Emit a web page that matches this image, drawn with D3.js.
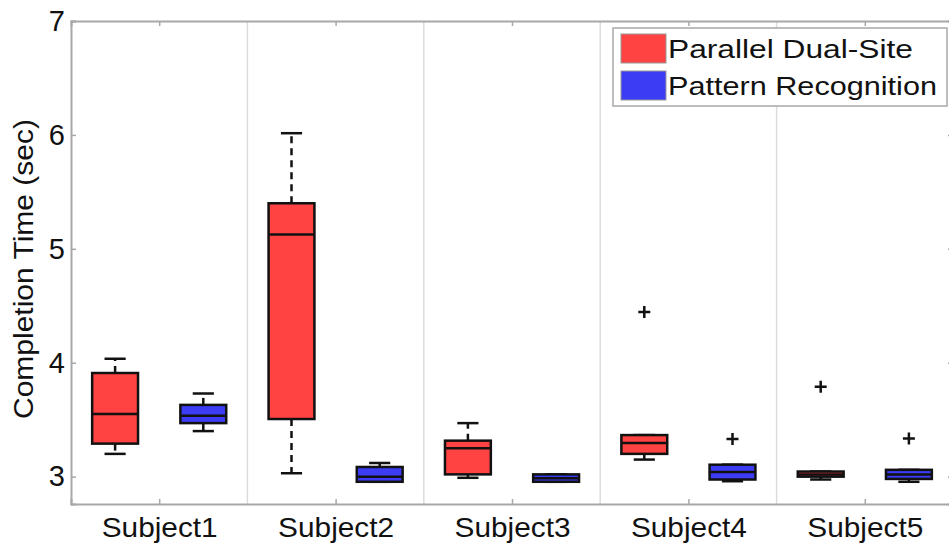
<!DOCTYPE html>
<html>
<head>
<meta charset="utf-8">
<script src="https://cdn.jsdelivr.net/npm/d3@7"></script>
<style>
  body { margin: 0; background: #fff; }
  text { font-family: "Liberation Sans", Arial, sans-serif; }
</style>
</head>
<body>
<div id="chart"></div>
<script>
// data
var subjects = ["Subject1", "Subject2", "Subject3", "Subject4", "Subject5"];
var series = ["Parallel Dual-Site", "Pattern Recognition"];
var colors = ["#ff4242", "#3c3cf4"];
var yTicks = [3, 4, 5, 6, 7];

// Parallel Dual-Site
var dualLow  = [3.20, 3.03, 2.99, 3.15, 2.975];
var dualQ1   = [3.29, 3.506, 3.02, 3.20, 3.00];
var dualMed  = [3.55, 5.125, 3.25, 3.295, 3.02];
var dualQ3   = [3.91, 5.40, 3.316, 3.365, 3.045];
var dualHigh = [4.035, 6.015, 3.47, 3.365, 3.045];
var dualOut  = [[], [], [], [4.445], [3.79]];

// Pattern Recognition
var patLow  = [3.40, 2.955, 2.955, 2.96, 2.955];
var patQ1   = [3.47, 2.955, 2.955, 2.975, 2.98];
var patMed  = [3.535, 3.0, 2.985, 3.04, 3.02];
var patQ3   = [3.63, 3.085, 3.02, 3.105, 3.06];
var patHigh = [3.73, 3.12, 3.02, 3.105, 3.06];
var patOut  = [[], [], [], [3.33], [3.335]];

var width = 949, height = 548;
var plotLeft = 71, plotRight = 953, plotTop = 21, plotBottom = 504;

var svg = d3.select("#chart").append("svg")
    .attr("width", width)
    .attr("height", height);

var x = d3.scaleLinear().domain([0.5, 5.5]).range([plotLeft, plotRight]);
var y = d3.scaleLinear().domain([2.76, 7]).range([plotBottom, plotTop]);

//light separators between subjects
svg.append("g").selectAll("line")
    .data(d3.range(1.5, 5, 1))
    .enter().append("line")
    .attr("x1", function(d) { return x(d); })
    .attr("x2", function(d) { return x(d); })
    .attr("y1", plotTop)
    .attr("y2", plotBottom)
    .attr("stroke", "#dcdcdc")
    .attr("stroke-width", 1.5);

//axes, ticks pointing inside
var gx = svg.append("g")
    .attr("transform", "translate(0," + plotBottom + ")")
    .call(d3.axisBottom(x).tickValues([1, 2, 3, 4, 5]).tickSize(-5).tickPadding(13)
        .tickFormat(function(d) { return subjects[d - 1]; }));
var gxTop = svg.append("g")
    .attr("transform", "translate(0," + plotTop + ")")
    .call(d3.axisTop(x).tickValues([1, 2, 3, 4, 5]).tickSize(-5).tickFormat(""));
var gy = svg.append("g")
    .attr("transform", "translate(" + plotLeft + ",0)")
    .call(d3.axisLeft(y).tickValues(yTicks).tickSize(-5).tickPadding(6).tickFormat(d3.format("d")));
var gyRight = svg.append("g")
    .attr("transform", "translate(" + plotRight + ",0)")
    .call(d3.axisRight(y).tickValues(yTicks).tickSize(-5).tickFormat(""));

[gx, gxTop, gy, gyRight].forEach(function(g) {
    g.select(".domain").attr("stroke", "#a8a8a8").attr("stroke-width", 2);
    g.selectAll(".tick line").attr("stroke", "#a8a8a8").attr("stroke-width", 1.5);
});

gx.selectAll(".tick text")
    .attr("fill", "#111")
    .style("font-size", "28px")
    .attr("textLength", 116)
    .attr("lengthAdjust", "spacingAndGlyphs");

gy.selectAll(".tick text")
    .attr("fill", "#111")
    .style("font-size", "29px");

//y axis title
svg.append("text")
    .attr("transform", "translate(33,269) rotate(-90)")
    .attr("text-anchor", "middle")
    .attr("fill", "#111")
    .style("font-size", "27px")
    .attr("textLength", 300)
    .attr("lengthAdjust", "spacingAndGlyphs")
    .text("Completion Time (sec)");

//one entry per box
var boxes = [];
subjects.forEach(function(s, i) {
    boxes.push({pos: i + 1 - 0.25, c: colors[0], low: dualLow[i], q1: dualQ1[i], med: dualMed[i], q3: dualQ3[i], high: dualHigh[i], out: dualOut[i]});
    boxes.push({pos: i + 1 + 0.25, c: colors[1], low: patLow[i], q1: patQ1[i], med: patMed[i], q3: patQ3[i], high: patHigh[i], out: patOut[i]});
});

var halfBox = 0.13, halfCap = 0.06;

var bg = svg.append("g").selectAll("g")
    .data(boxes)
    .enter().append("g");

//dashed whiskers
bg.append("line")
    .attr("x1", function(d) { return x(d.pos); })
    .attr("x2", function(d) { return x(d.pos); })
    .attr("y1", function(d) { return y(d.q3); })
    .attr("y2", function(d) { return y(d.high); })
    .attr("stroke", "#111").attr("stroke-width", 2.5)
    .attr("stroke-dasharray", "7,5");
bg.append("line")
    .attr("x1", function(d) { return x(d.pos); })
    .attr("x2", function(d) { return x(d.pos); })
    .attr("y1", function(d) { return y(d.q1); })
    .attr("y2", function(d) { return y(d.low); })
    .attr("stroke", "#111").attr("stroke-width", 2.5)
    .attr("stroke-dasharray", "7,5");

//whisker caps
["high", "low"].forEach(function(k) {
    bg.append("line")
        .attr("x1", function(d) { return x(d.pos - halfCap); })
        .attr("x2", function(d) { return x(d.pos + halfCap); })
        .attr("y1", function(d) { return y(d[k]); })
        .attr("y2", function(d) { return y(d[k]); })
        .attr("stroke", "#111").attr("stroke-width", 2.5);
});

//boxes
bg.append("rect")
    .attr("x", function(d) { return x(d.pos - halfBox); })
    .attr("width", function(d) { return x(d.pos + halfBox) - x(d.pos - halfBox); })
    .attr("y", function(d) { return y(d.q3); })
    .attr("height", function(d) { return y(d.q1) - y(d.q3); })
    .attr("fill", function(d) { return d.c; })
    .attr("stroke", "#111")
    .attr("stroke-width", 2.5);

//median
bg.append("line")
    .attr("x1", function(d) { return x(d.pos - halfBox); })
    .attr("x2", function(d) { return x(d.pos + halfBox); })
    .attr("y1", function(d) { return y(d.med); })
    .attr("y2", function(d) { return y(d.med); })
    .attr("stroke", "#111").attr("stroke-width", 2.5);

//outliers as + marks
bg.each(function(d) {
    d3.select(this).selectAll("path.out")
        .data(d.out)
        .enter().append("path")
        .attr("class", "out")
        .attr("d", "M-6,0H6M0,-6V6")
        .attr("transform", function(v) { return "translate(" + x(d.pos) + "," + y(v) + ")"; })
        .attr("stroke", "#111")
        .attr("stroke-width", 2.5);
});

//legend
var lg = svg.append("g");
lg.append("rect")
    .attr("x", 613).attr("y", 28)
    .attr("width", 334).attr("height", 78)
    .attr("fill", "#fff")
    .attr("stroke", "#a8a8a8")
    .attr("stroke-width", 1.5);

var item = lg.selectAll("g.item")
    .data(series)
    .enter().append("g")
    .attr("class", "item")
    .attr("transform", function(d, i) { return "translate(621," + (34 + i * 37) + ")"; });
item.append("rect")
    .attr("width", 45).attr("height", 29)
    .attr("fill", function(d, i) { return colors[i]; })
    .attr("stroke", "#999")
    .attr("stroke-width", 1);
item.append("text")
    .attr("x", 47)
    .attr("y", 24)
    .attr("fill", "#111")
    .style("font-size", "25px")
    .attr("textLength", function(d, i) { return i === 0 ? 245 : 269; })
    .attr("lengthAdjust", "spacingAndGlyphs")
    .text(function(d) { return d; });
</script>
</body>
</html>
